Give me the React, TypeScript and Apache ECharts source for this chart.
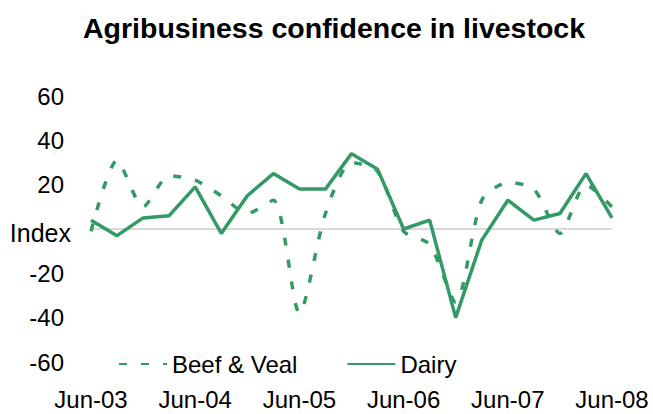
import React, { useEffect, useRef } from "react";
import * as echarts from "echarts";

const categories = [
  "Jun-03", "Sep-03", "Dec-03", "Mar-04",
  "Jun-04", "Sep-04", "Dec-04", "Mar-05",
  "Jun-05", "Sep-05", "Dec-05", "Mar-06",
  "Jun-06", "Sep-06", "Dec-06", "Mar-07",
  "Jun-07", "Sep-07", "Dec-07", "Mar-08",
  "Jun-08",
];

const beefVeal = [-1, 31, 10, 24, 22, 15, 7, 13, -38, 7, 30, 26, -1, -7, -33, 13, 21, 18, -2, 20, 10];
const dairy = [4, -3, 5, 6, 19, -2, 15, 25, 18, 18, 34, 27, 0, 4, -40, -5, 13, 4, 7, 25, 5];

const yTicks = [-60, -40, -20, 0, 20, 40, 60];
const zeroLabel = "Index";

const GREEN = "#339966";
const FONT = "'Liberation Sans', Arial, sans-serif";

export default function App() {
  const ref = useRef<HTMLDivElement>(null);
  useEffect(() => {
    if (!ref.current) return;
    const chart = echarts.init(ref.current, undefined, { renderer: "svg" });
    const splitColors = yTicks.map((t) => (t === 0 ? "#d9d9d9" : "rgba(0,0,0,0)"));
    chart.setOption({
      animation: false,
      backgroundColor: "#ffffff",
      textStyle: { fontFamily: FONT },
      title: {
        text: "Agribusiness confidence in livestock",
        left: 78,
        top: 8,
        textStyle: { fontSize: 28.5, fontWeight: "bold", color: "#000", fontFamily: FONT },
      },
      legend: {
        left: 118,
        top: 352,
        padding: 0,
        itemWidth: 48,
        itemHeight: 14,
        itemGap: 49,
        itemStyle: { opacity: 0 },
        textStyle: { fontSize: 24, color: "#000", fontFamily: FONT },
        data: ["Beef & Veal", "Dairy"],
      },
      grid: { left: 91, right: 41, top: 96, bottom: 52 },
      xAxis: {
        type: "category",
        data: categories,
        boundaryGap: false,
        axisLine: { show: false },
        axisTick: { show: false },
        axisLabel: {
          interval: 3,
          margin: 25,
          fontSize: 24,
          color: "#000",
          fontFamily: FONT,
        },
        splitLine: { show: false },
      },
      yAxis: {
        type: "value",
        min: -60,
        max: 60,
        interval: 20,
        axisLine: { show: false },
        axisTick: { show: false },
        axisLabel: {
          margin: 20,
          fontSize: 24,
          color: "#000",
          fontFamily: FONT,
          formatter: (v: number) => (v === 0 ? `{i|${zeroLabel}}` : `{n|${v}}`),
          rich: {
            n: { fontSize: 24, color: "#000", fontFamily: FONT, padding: [0, 7, 0, 0] },
            i: { fontSize: 25, color: "#000", fontFamily: FONT, padding: [7, 0, 0, 0] },
          },
        },
        splitLine: { show: true, lineStyle: { color: splitColors, width: 2 } },
      },
      series: [
        {
          name: "Beef & Veal",
          type: "line",
          data: beefVeal,
          smooth: 0.25,
          symbol: "none",
          showSymbol: false,
          lineStyle: { color: GREEN, width: 3.5, type: [8, 14], cap: "butt" },
          itemStyle: { color: GREEN },
        },
        {
          name: "Dairy",
          type: "line",
          data: dairy,
          symbol: "none",
          showSymbol: false,
          lineStyle: { color: GREEN, width: 3.5, type: "solid" },
          itemStyle: { color: GREEN },
        },
      ],
    });
    return () => chart.dispose();
  }, []);
  return (
    <div
      ref={ref}
      style={{ position: "fixed", left: 0, top: 0, width: 653, height: 414, background: "#fff" }}
    />
  );
}
